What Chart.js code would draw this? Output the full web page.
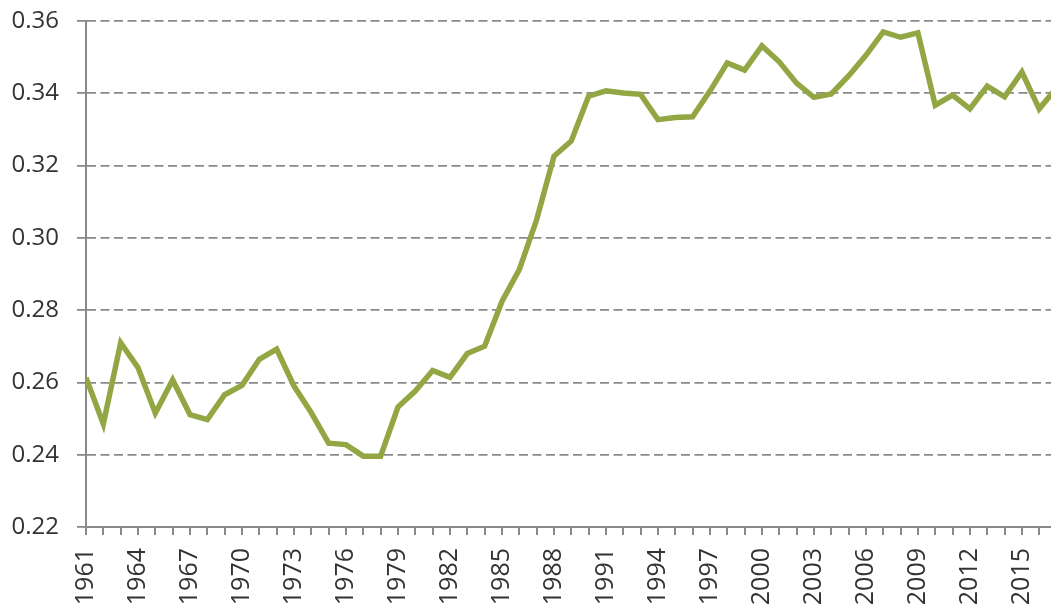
<!DOCTYPE html>
<html>
<head>
<meta charset="utf-8">
<script src="https://cdn.jsdelivr.net/npm/chart.js@4"></script>
<style>
  html, body { margin: 0; padding: 0; background: #fff; overflow: hidden; }
  #wrap { width: 1051px; height: 604px; position: relative; }
</style>
</head>
<body>
<div id="wrap"><canvas id="chart"></canvas></div>
<script>
const years = [];
for (let y = 1961; y <= 2017; y++) years.push(y);

const values = [
    0.2613, 0.2485, 0.2710, 0.2641, 0.2515, 0.2607, 0.2511, 0.2497, 0.2566, 0.2592,
    0.2664, 0.2692, 0.2590, 0.2516, 0.2432, 0.2428, 0.2396, 0.2396, 0.2532, 0.2576,
    0.2633, 0.2614, 0.2680, 0.2700, 0.2824, 0.2912, 0.3050, 0.3226, 0.3268, 0.3392,
    0.3407, 0.3401, 0.3397, 0.3327, 0.3333, 0.3335, 0.3406, 0.3484, 0.3464, 0.3531,
    0.3487, 0.3428, 0.3389, 0.3398, 0.3448, 0.3505, 0.3570, 0.3555, 0.3567, 0.3367,
    0.3395, 0.3357, 0.3420, 0.3390, 0.3459, 0.3357, 0.3415
];

const yTicks = [0.22, 0.24, 0.26, 0.28, 0.30, 0.32, 0.34, 0.36];

const lineColor = '#93a644';
const gridColor = '#8a8a8a';
const textColor = '#333333';
const family = '"Open Sans", "Noto Sans", sans-serif';

const points = years.map((yr, i) => ({ x: yr, y: values[i] }));

// keep the plot area flush with the canvas edges, like the original
function noPad(s) {
    s.paddingLeft = 0;
    s.paddingRight = 0;
    s.paddingTop = 0;
    s.paddingBottom = 0;
}

new Chart(document.getElementById('chart').getContext('2d'), {
    type: 'line',
    data: {
        datasets: [{
            data: points,
            borderColor: lineColor,
            borderWidth: 5.5,
            pointRadius: 0,
            tension: 0,
            fill: false
        }]
    },
    options: {
        responsive: true,
        maintainAspectRatio: false,
        animation: false,
        layout: { padding: { top: 21, right: 0, left: 0, bottom: 0 } },
        plugins: { legend: { display: false }, tooltip: { enabled: false } },
        scales: {
            x: {
                type: 'linear',
                min: 1961,
                max: 2016.68,
                afterFit: s => { s.height = 77; noPad(s); },
                ticks: {
                    stepSize: 1,
                    includeBounds: false,
                    autoSkip: false,
                    minRotation: 90,
                    maxRotation: 90,
                    padding: 13,
                    color: textColor,
                    font: { family, size: 25 },
                    callback: v => ((v - 1961) % 3 === 0 ? String(v) : '')
                },
                grid: {
                    drawOnChartArea: false,
                    drawTicks: true,
                    tickLength: 8,
                    color: gridColor,
                    lineWidth: 2
                },
                border: { display: true, color: gridColor, width: 2 }
            },
            y: {
                min: 0.22,
                max: 0.36,
                afterFit: s => { s.width = 86; noPad(s); },
                afterBuildTicks: s => { s.ticks = yTicks.map(v => ({ value: v })); },
                ticks: {
                    padding: 18,
                    color: textColor,
                    font: { family, size: 24 },
                    callback: v => v.toFixed(2)
                },
                grid: {
                    color: gridColor,
                    lineWidth: 1.8,
                    tickLength: 9,
                    tickBorderDash: [],
                    drawTicks: true
                },
                border: { display: true, color: gridColor, width: 2, dash: [9, 4.5] }
            }
        }
    }
});
</script>
</body>
</html>
